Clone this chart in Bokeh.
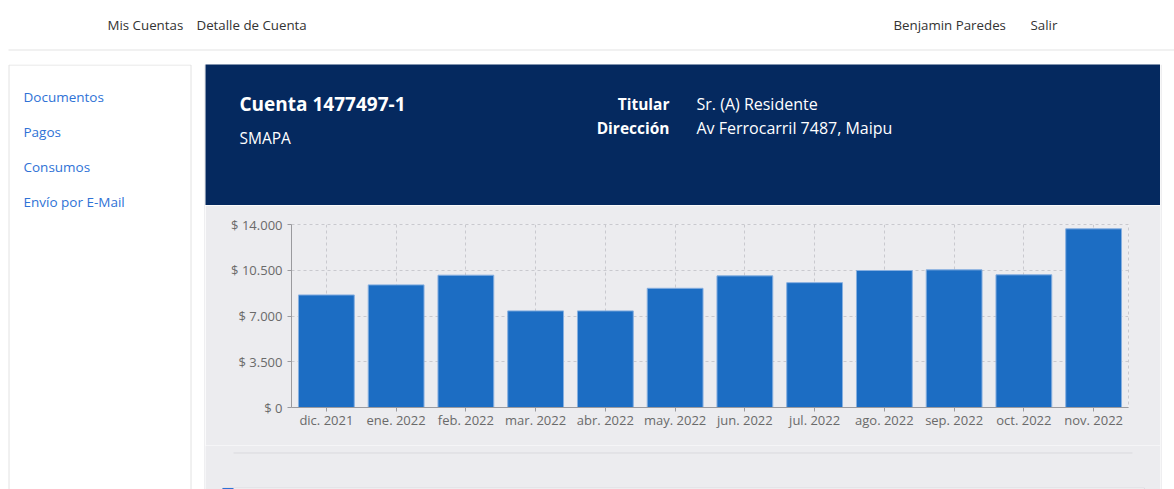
from bokeh.plotting import figure
from bokeh.layouts import column, row
from bokeh.models import Range1d, FixedTicker
from bokeh.core.properties import value
from bokeh.embed import file_html
from bokeh.resources import INLINE

# ---------------- data ----------------
months = ["dic. 2021", "ene. 2022", "feb. 2022", "mar. 2022", "abr. 2022", "may. 2022",
          "jun. 2022", "jul. 2022", "ago. 2022", "sep. 2022", "oct. 2022", "nov. 2022"]
amounts = [8610, 9380, 10120, 7390, 7390, 9120, 10070, 9550, 10480, 10530, 10150, 13670]
y_ticks = [0, 3500, 7000, 10500, 14000]
y_tick_labels = ["$ 0", "$ 3.500", "$ 7.000", "$ 10.500", "$ 14.000"]

nav_left = ["Mis Cuentas", "Detalle de Cuenta"]
nav_right = ["Benjamin Paredes", "Salir"]
side_links = ["Documentos", "Pagos", "Consumos", "Envío por E-Mail"]
account_title = "Cuenta 1477497-1"
account_company = "SMAPA"
info_keys = ["Titular", "Dirección"]
info_vals = ["Sr. (A) Residente", "Av Ferrocarril 7487, Maipu"]

FONT = "Open Sans"
PANEL = "#ececef"
NAVY = "#05295f"
TEXT = "#333333"
LINK = "#2f72d6"


def deco(w, h, bg):
    """A plain figure whose data units are page pixels (y pointing down)."""
    f = figure(width=w, height=h, x_range=Range1d(0, w), y_range=Range1d(h, 0),
               output_backend="svg", toolbar_location=None, frame_align=False,
               min_border=0, x_axis_location=None, y_axis_location=None)
    f.grid.visible = False
    f.outline_line_color = None
    f.background_fill_color = bg
    f.border_fill_color = bg
    return f


def txt(f, xs, ys, texts, size, color, bold=False, align="left"):
    f.text(x=xs, y=ys, text=texts, text_font=value(FONT), text_font_size=value(size),
           text_font_style="bold" if bold else "normal", text_color=color,
           text_align=align, text_baseline="middle")


# ---------------- header (page y 0..64) ----------------
header = deco(1174, 64, "white")
txt(header, [107, 196], [24.5, 24.5], nav_left, "13.3px", TEXT)
txt(header, [893, 1030], [24.5, 24.5], nav_right, "13.3px", TEXT)
header.segment(x0=[8], y0=[49.5], x1=[1174], y1=[49.5], line_color="#e3e3e3", line_width=1)

# ---------------- sidebar (page x 0..205, y 64..489) ----------------
side = deco(205, 425, "white")
side.quad(left=[8.5], right=[190.5], top=[0.5], bottom=[430], fill_color=None,
          line_color="#e2e2e2", line_width=1)
side.segment(x0=[204.5], y0=[0], x1=[204.5], y1=[425], line_color="#dedee2")
txt(side, [23] * 4, [96 - 64 + i * 35 for i in range(4)], side_links, "13.5px", LINK)

# ---------------- banner (page x 205..1160, y 64..205) ----------------
banner = deco(955, 141, NAVY)
txt(banner, [34], [39.5], [account_title], "19px", "white", bold=True)
txt(banner, [34], [73], [account_company], "15.5px", "white")
txt(banner, [464, 464], [39.5, 63.5], info_keys, "15.5px", "white", bold=True, align="right")
txt(banner, [491, 491], [39.5, 63.5], info_vals, "16px", "white")

# ---------------- chart (page x 205..1160, y 205..445) ----------------
chart = figure(x_range=months, y_range=(0, 14000), width=955, height=240,
               output_backend="svg", toolbar_location=None, frame_align=False,
               min_border_left=86, min_border_right=32, min_border_top=19, min_border_bottom=38)
chart.border_fill_color = PANEL
chart.background_fill_color = PANEL
chart.outline_line_color = "#c9c9ce"
chart.outline_line_dash = "3 3"

chart.vbar(x=months, top=amounts, width=0.8, fill_color="#1c6dc3",
           line_color="#86afe0", line_width=1)

for ax in (chart.xaxis, chart.yaxis):
    ax.axis_line_color = "#9a9a9e"
    ax.major_tick_line_color = "#9a9a9e"
    ax.major_tick_out = 4
    ax.major_tick_in = 0
    ax.minor_tick_line_color = None
    ax.major_label_text_font = FONT
    ax.major_label_text_font_size = "13px"
    ax.major_label_text_color = "#6a6a6a"
chart.xaxis.major_label_standoff = -1
chart.yaxis.major_label_standoff = 5
chart.yaxis.ticker = FixedTicker(ticks=y_ticks)
chart.yaxis.major_label_overrides = {t: l for t, l in zip(y_ticks, y_tick_labels)}

chart.xgrid.grid_line_color = "#c9c9ce"
chart.xgrid.grid_line_dash = "3 3"
chart.ygrid.grid_line_color = "#c9c9ce"
chart.ygrid.grid_line_dash = "3 3"

# ---------------- footer of panel (page x 205..1160, y 445..489) ----------------
footer = deco(955, 44, PANEL)
footer.segment(x0=[28], y0=[7.5], x1=[927], y1=[7.5], line_color="#d9d9dd", line_width=1)
footer.quad(left=[17], right=[939], top=[42.5], bottom=[50], fill_color="white",
            line_color="#dcdce0", line_width=1)
footer.quad(left=[17], right=[28], top=[42.5], bottom=[50], fill_color="#2f72d6",
            line_color=None)

# ---------------- right margin (page x 1160..1174) ----------------
rpad = deco(14, 425, "white")
rpad.segment(x0=[0.5], y0=[0], x1=[0.5], y1=[425], line_color="#dedee2")

page = column(header,
              row(side, column(banner, chart, footer, spacing=0), rpad, spacing=0),
              spacing=0)

open("out.html", "w").write(file_html(page, INLINE))
